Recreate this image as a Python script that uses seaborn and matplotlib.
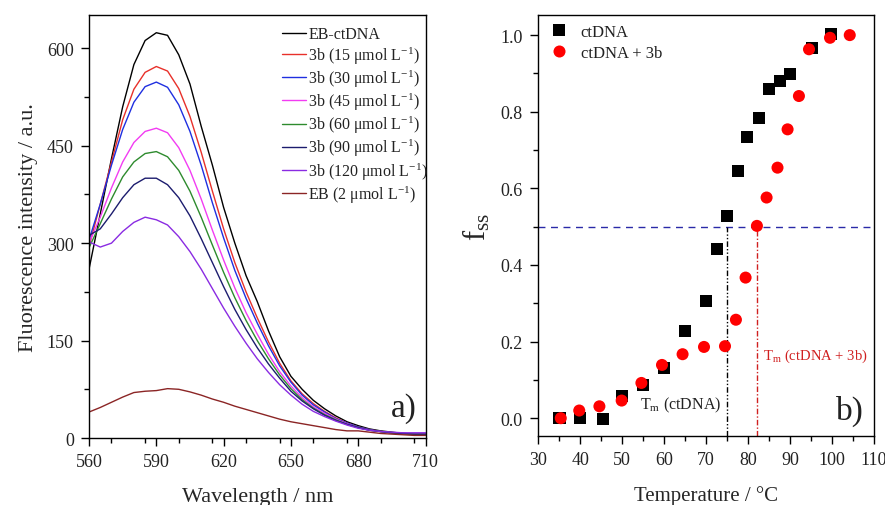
import numpy as np
import pandas as pd
import matplotlib
matplotlib.use('Agg')
import matplotlib.pyplot as plt
from matplotlib.ticker import MultipleLocator
import seaborn as sns

# Set plot style
sns.set_style('ticks')
plt.rcParams['font.family'] = ['Liberation Serif', 'DejaVu Serif']
plt.rcParams['mathtext.fontset'] = 'custom'
plt.rcParams['mathtext.rm'] = 'Liberation Serif'
plt.rcParams['mathtext.it'] = 'Liberation Serif:italic'
plt.rcParams['text.color'] = '#222222'
plt.rcParams['xtick.color'] = 'black'
plt.rcParams['ytick.color'] = 'black'
plt.rcParams['xtick.labelcolor'] = '#222222'
plt.rcParams['ytick.labelcolor'] = '#222222'

# -------------------------
# a) fluorescence spectra (values read off the picture)
wavelength = [560, 565, 570, 575, 580, 585, 590, 595, 600, 605, 610, 615, 620, 625, 630,
              635, 640, 645, 650, 655, 660, 665, 670, 675, 680, 685, 690, 695, 700, 705, 710]

eb_ctdna = [260, 345, 430, 510, 575, 612, 624, 620, 590, 545, 480, 420, 355, 300, 250,
            210, 165, 125, 95, 75, 58, 45, 34, 25, 19, 14, 11, 9, 7, 6, 5]
c15 = [295, 360, 425, 490, 537, 563, 572, 565, 538, 495, 440, 380, 322, 270, 225,
       185, 148, 115, 88, 68, 53, 41, 31, 23, 17, 13, 10, 8, 7, 6, 6]
c30 = [305, 360, 420, 475, 517, 541, 548, 540, 513, 472, 420, 362, 308, 258, 215,
       177, 142, 111, 86, 66, 51, 40, 30, 23, 17, 13, 10, 8, 7, 7, 7]
c45 = [300, 340, 385, 425, 455, 472, 477, 470, 447, 412, 368, 320, 274, 231, 193,
       160, 129, 102, 80, 62, 48, 38, 29, 22, 16, 12, 10, 8, 7, 7, 7]
c60 = [293, 330, 368, 402, 425, 438, 441, 433, 412, 380, 340, 297, 255, 216, 181,
       150, 122, 97, 76, 59, 46, 36, 28, 21, 16, 12, 10, 8, 7, 6, 6]
c90 = [312, 322, 345, 370, 390, 400, 400, 390, 370, 342, 307, 270, 233, 198, 167,
       139, 114, 92, 72, 57, 45, 35, 27, 21, 16, 12, 10, 8, 7, 6, 6]
c120 = [302, 294, 300, 318, 332, 340, 336, 328, 310, 287, 260, 230, 200, 172, 146,
        122, 101, 82, 66, 52, 41, 33, 26, 20, 15, 12, 10, 9, 8, 8, 8]
eb = [40, 47, 55, 63, 70, 72, 73, 76, 75, 71, 66, 60, 55, 49, 44,
      39, 34, 29, 25, 22, 19, 16, 13, 11, 11, 9, 7, 6, 5, 4, 4]

labels = ['EB-ctDNA',
          '3b (15 \u03bcmol L$^{-1}$)',
          '3b (30 \u03bcmol L$^{-1}$)',
          '3b (45 \u03bcmol L$^{-1}$)',
          '3b (60 \u03bcmol L$^{-1}$)',
          '3b (90 \u03bcmol L$^{-1}$)',
          '3b (120 \u03bcmol L$^{-1}$)',
          'EB (2 \u03bcmol L$^{-1}$)']
spectra = [eb_ctdna, c15, c30, c45, c60, c90, c120, eb]
colors = ['#000000', '#e8302a', '#1f2fe0', '#f23cf2', '#2e8b2e', '#1c1c6e', '#8a2be2', '#8b2525']
wl_ticks = [560, 590, 620, 650, 680, 710]

# b) melting curves
temp_ctdna = [35.1, 40.0, 45.4, 50.0, 55.0, 59.9, 65.0, 70.0, 72.6, 74.9, 77.5, 79.8,
              82.6, 84.9, 87.5, 89.9, 95.1, 99.7]
fss_ctdna = [0.0, 0.0, -0.003, 0.057, 0.087, 0.13, 0.227, 0.307, 0.441, 0.528, 0.644, 0.735,
             0.783, 0.860, 0.879, 0.898, 0.967, 1.003]
temp_3b = [35.4, 39.8, 44.6, 49.9, 54.6, 59.5, 64.4, 69.5, 74.5, 77.1, 79.4, 82.1,
           84.4, 87.0, 89.4, 92.1, 94.5, 99.5, 104.2]
fss_3b = [0.0, 0.020, 0.031, 0.046, 0.092, 0.139, 0.167, 0.186, 0.188, 0.257, 0.367, 0.502,
          0.576, 0.654, 0.754, 0.841, 0.963, 0.993, 1.0]
tm_ctdna = 74.9
tm_3b = 82.1
half = 0.5

# Long-form tables for seaborn
spec_df = pd.concat([pd.DataFrame({'Wavelength': wavelength, 'Intensity': s, 'Sample': lab})
                     for s, lab in zip(spectra, labels)], ignore_index=True)
melt_df = pd.concat([pd.DataFrame({'T': temp_ctdna, 'fss': fss_ctdna, 'Sample': 'ctDNA'}),
                     pd.DataFrame({'T': temp_3b, 'fss': fss_3b, 'Sample': 'ctDNA + 3b'})],
                    ignore_index=True)

fig = plt.figure(figsize=(8.85, 5.06), dpi=100)
ax1 = fig.add_axes([0.1006, 0.1324, 0.3802, 0.8356])
ax2 = fig.add_axes([0.608, 0.136, 0.3797, 0.832])

# ---- panel a
sns.lineplot(data=spec_df, x='Wavelength', y='Intensity', hue='Sample',
             palette=dict(zip(labels, colors)), linewidth=1.0, ax=ax1)
ax1.set_xlim(560, 710)
ax1.set_ylim(0, 651)
ax1.set_xticks(wl_ticks)
ax1.xaxis.set_minor_locator(MultipleLocator(15))
ax1.yaxis.set_major_locator(MultipleLocator(150))
ax1.yaxis.set_minor_locator(MultipleLocator(75))
ax1.set_xlabel('Wavelength / nm', fontsize=16, labelpad=12)
ax1.set_ylabel('Fluorescence intensity / a.u.', fontsize=16, labelpad=6)
ax1.legend(loc='upper right', frameon=False, fontsize=11.5, handlelength=1.5,
           handletextpad=0.15, labelspacing=0.12, borderaxespad=0.3, bbox_to_anchor=(1.04, 1.0))
ax1.text(0.975, 0.035, 'a)', transform=ax1.transAxes, fontsize=24, ha='right', va='bottom')

# ---- panel b
ax2.axhline(half, color='#2a2aa8', linestyle=(0, (5, 4)), linewidth=1.0, zorder=1)
ymin = -0.047
ax2.vlines(tm_ctdna, ymin, half, color='black', linestyle=(0, (4, 1.5, 1, 1.5, 1, 1.5)),
           linewidth=1.0, zorder=1)
ax2.vlines(tm_3b, ymin, half, color='#d02020', linestyle=(0, (4, 1.5, 1, 1.5)),
           linewidth=1.0, zorder=1)
sns.scatterplot(data=melt_df, x='T', y='fss', hue='Sample', style='Sample',
                palette={'ctDNA': 'black', 'ctDNA + 3b': '#ff0000'},
                markers={'ctDNA': 's', 'ctDNA + 3b': 'o'}, s=75, edgecolor='none',
                linewidth=0, ax=ax2, zorder=3)
ax2.set_xlim(30, 110)
ax2.set_ylim(ymin, 1.052)
ax2.xaxis.set_major_locator(MultipleLocator(10))
ax2.xaxis.set_minor_locator(MultipleLocator(5))
ax2.yaxis.set_major_locator(MultipleLocator(0.2))
ax2.yaxis.set_minor_locator(MultipleLocator(0.1))
ax2.set_xlabel('Temperature / \u00b0C', fontsize=15, labelpad=12)
ax2.set_ylabel('f$_{\\rm ss}$', fontsize=22, labelpad=6)
ax2.legend(loc='upper left', frameon=False, fontsize=12, handletextpad=0.3,
           labelspacing=0.3, borderaxespad=0.1, bbox_to_anchor=(-0.012, 1.0))
ax2.text(73.5, 0.035, 'T$_{\\rm m}$ (ctDNA)', fontsize=11.5, ha='right', va='center', color='#222222')
ax2.text(83.6, 0.165, 'T$_{\\rm m}$ (ctDNA + 3b)', fontsize=10.5, ha='left', va='center', color='#d02020')
ax2.text(0.97, 0.025, 'b)', transform=ax2.transAxes, fontsize=24, ha='right', va='bottom')

for ax in (ax1, ax2):
    for sp in ax.spines.values():
        sp.set_visible(True)
        sp.set_color('black')
        sp.set_linewidth(1.0)
    ax.tick_params(which='major', direction='out', length=6, width=1.0, labelsize=13,
                   top=False, right=False, pad=5)
    ax.tick_params(which='minor', direction='out', length=3.5, width=1.0, top=False, right=False)

fig.savefig('out.png', dpi=100)
